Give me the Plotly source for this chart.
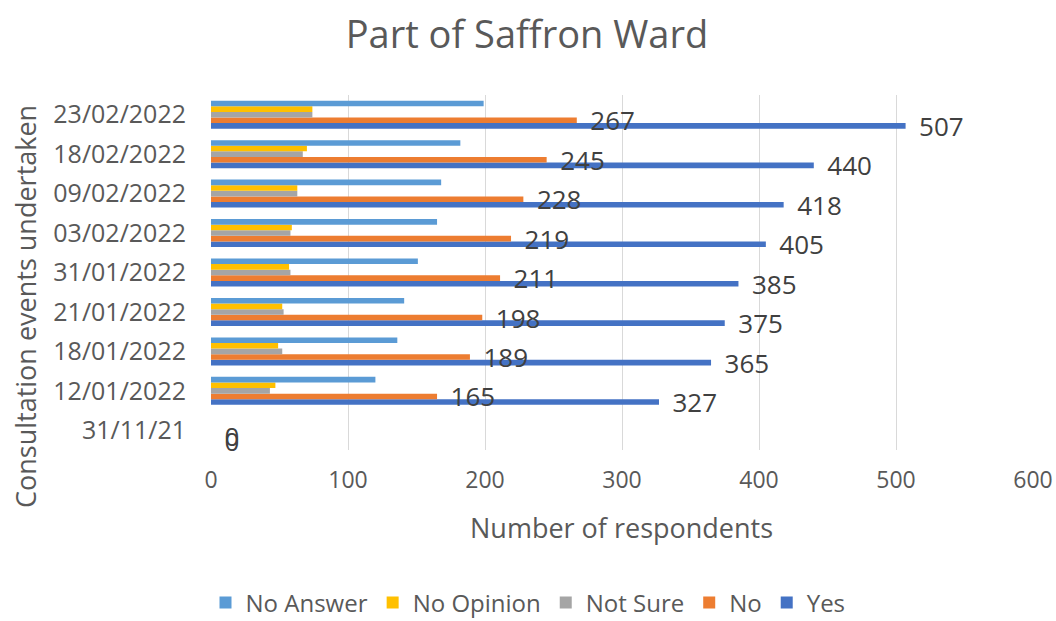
import plotly.graph_objects as go

dates = ["31/11/21", "12/01/2022", "18/01/2022", "21/01/2022", "31/01/2022",
         "03/02/2022", "09/02/2022", "18/02/2022", "23/02/2022"]
no_answer = [0, 120, 136, 141, 151, 165, 168, 182, 199]
no_opinion = [0, 47, 49, 52, 57, 59, 63, 70, 74]
not_sure = [0, 43, 52, 53, 58, 58, 63, 67, 74]
no = [0, 165, 189, 198, 211, 219, 228, 245, 267]
yes = [0, 327, 365, 375, 385, 405, 418, 440, 507]

font_family = "Open Sans, Lato, sans-serif"
gray = "#595959"

series = [
    ("Yes", yes, "#4472C4", True),
    ("No", no, "#ED7D31", True),
    ("Not Sure", not_sure, "#A5A5A5", False),
    ("No Opinion", no_opinion, "#FFC000", False),
    ("No Answer", no_answer, "#5B9BD5", False),
]

fig = go.Figure()
for name, vals, color, labels in series:
    fig.add_trace(go.Bar(
        y=dates, x=vals, name=name, orientation="h",
        marker=dict(color=color, line=dict(width=0)),
        text=[f"  {v}" for v in vals] if labels else None,
        textposition="outside" if labels else "none",
        textfont=dict(size=26, color="#404040", family=font_family),
        constraintext="none",
        cliponaxis=False,
    ))

fig.update_layout(
    width=1056, height=621,
    barmode="group", bargap=0.29, bargroupgap=0,
    paper_bgcolor="white", plot_bgcolor="white",
    margin=dict(l=211, r=23, t=95, b=171, autoexpand=False),
    title=dict(text="Part of Saffron Ward", x=0.499, xanchor="center", y=0.944, yanchor="middle",
               font=dict(size=38, color=gray, family=font_family)),
    font=dict(family=font_family, color=gray),
    legend=dict(orientation="h", x=(528 - 211) / 822, xanchor="center", y=(450 - 603) / 355,
                yanchor="middle", traceorder="reversed", font=dict(size=24, color=gray)),
    xaxis=dict(range=[0, 600], dtick=100, showgrid=True, gridcolor="#D9D9D9", gridwidth=1,
               zeroline=False, showline=False, ticks="", automargin=False,
               ticklabelstandoff=14,
               tickfont=dict(size=23, color=gray)),
    yaxis=dict(categoryorder="array", categoryarray=dates, showgrid=False, zeroline=False,
               showline=False, ticks="", ticklabelstandoff=24, automargin=False,
               tickfont=dict(size=25, color=gray)),
    annotations=[
        dict(text="Number of respondents", xref="paper", yref="paper",
             x=(621 - 211) / 822, y=(450 - 527) / 355, xanchor="center", yanchor="middle",
             showarrow=False, font=dict(size=27, color=gray)),
        dict(text="Consultation events undertaken", xref="paper", yref="paper",
             x=(25 - 211) / 822, y=(450 - 307) / 355, xanchor="center", yanchor="middle",
             textangle=-90, showarrow=False, font=dict(size=27, color=gray)),
    ],
)

fig.write_html("out.html", config={"displayModeBar": False},
               post_script="document.body.style.margin='0';document.body.style.overflow='hidden';")
